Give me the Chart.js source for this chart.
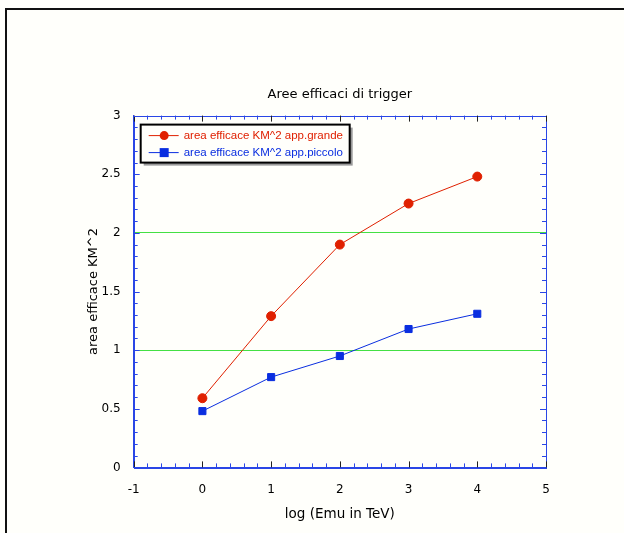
<!DOCTYPE html>
<html>
<head>
<meta charset="utf-8">
<script src="https://cdn.jsdelivr.net/npm/chart.js@4"></script>
<style>
  html, body { margin: 0; padding: 0; background: #fffffb; }
  #wrap { width: 624px; height: 533px; }
</style>
</head>
<body>
<div id="wrap"><canvas id="areaChart" width="624" height="533"></canvas></div>
<script>
// data
const logEnergy = [0, 1, 2, 3, 4];
const areaGrande = [0.59, 1.29, 1.90, 2.25, 2.48];
const areaPiccolo = [0.48, 0.77, 0.95, 1.18, 1.31];
const refLines = [1, 2];
const xTicks = [-1, 0, 1, 2, 3, 4, 5];
const yTicks = [0, 0.5, 1, 1.5, 2, 2.5, 3];

const FONT = "'DejaVu Sans', Verdana, sans-serif";
const LEG_FONT = "'Liberation Sans', Arial, sans-serif";
const RED = '#e02000';
const BLUE = '#0a2ee0';
const AXIS = '#2a46e6';

const toPoints = vals => vals.map((v, i) => ({ x: logEnergy[i], y: v }));

// background, outer frame, right/top axis border, inward ticks, boxed legend
const decorPlugin = {
    id: 'decor',
    beforeDraw(chart) {
        const ctx = chart.ctx;
        ctx.save();
        ctx.fillStyle = '#fffffb';
        ctx.fillRect(0, 0, chart.width, chart.height);
        ctx.strokeStyle = '#111';
        ctx.lineWidth = 2;
        ctx.beginPath();
        ctx.moveTo(6, chart.height);
        ctx.lineTo(6, 9);
        ctx.lineTo(chart.width, 9);
        ctx.stroke();
        ctx.restore();
    },
    afterDatasetsDraw(chart) {
        const ctx = chart.ctx;
        const a = chart.chartArea;
        const xs = chart.scales.x, ys = chart.scales.y;
        ctx.save();
        ctx.strokeStyle = AXIS;
        ctx.lineWidth = 1;
        ctx.strokeRect(Math.round(a.left) + 0.5, Math.round(a.top) + 0.5,
            Math.round(a.right - a.left), Math.round(a.bottom - a.top));
        // x ticks, minor every 0.2
        for (let k = 0; k <= 30; k++) {
            const v = xs.min + k * 0.2;
            const px = Math.round(xs.getPixelForValue(v)) + 0.5;
            const major = k % 5 === 0;
            const len = major ? 6 : 4;
            ctx.strokeStyle = major ? '#222' : AXIS;
            ctx.beginPath();
            ctx.moveTo(px, a.bottom); ctx.lineTo(px, a.bottom - len);
            ctx.moveTo(px, a.top); ctx.lineTo(px, a.top + len);
            ctx.stroke();
        }
        // y ticks, minor every 0.1
        for (let k = 0; k <= 30; k++) {
            const v = ys.min + k * 0.1;
            const py = Math.round(ys.getPixelForValue(v)) + 0.5;
            const major = k % 5 === 0;
            const len = major ? 6 : 4;
            ctx.strokeStyle = AXIS;
            ctx.beginPath();
            ctx.moveTo(a.left, py); ctx.lineTo(a.left + len, py);
            ctx.moveTo(a.right, py); ctx.lineTo(a.right - len, py);
            ctx.stroke();
        }
        // legend box
        const bx = a.left + 7, by = a.top + 9, bw = 209, bh = 38;
        ctx.fillStyle = '#999';
        ctx.fillRect(bx + 3, by + 3, bw, bh);
        ctx.fillStyle = '#fffffb';
        ctx.fillRect(bx, by, bw, bh);
        ctx.strokeStyle = '#000';
        ctx.lineWidth = 2;
        ctx.strokeRect(bx, by, bw, bh);
        ctx.font = '11.5px ' + LEG_FONT;
        ctx.textBaseline = 'middle';
        chart.data.datasets.forEach((ds, i) => {
            const ly = by + 11 + i * 17;
            ctx.strokeStyle = ds.borderColor;
            ctx.lineWidth = 1;
            ctx.beginPath();
            ctx.moveTo(bx + 8, ly); ctx.lineTo(bx + 38, ly);
            ctx.stroke();
            ctx.fillStyle = ds.pointBackgroundColor;
            if (ds.pointStyle === 'rect') {
                ctx.fillRect(bx + 19, ly - 4.5, 9, 9);
            } else {
                ctx.beginPath();
                ctx.arc(bx + 23.5, ly, 4.5, 0, Math.PI * 2);
                ctx.fill();
            }
            ctx.fillStyle = ds.borderColor;
            ctx.fillText(ds.label, bx + 43, ly);
        });
        ctx.restore();
    }
};

const areaChart = document.getElementById('areaChart');
new Chart(areaChart, {
    type: 'scatter',
    data: {
        datasets: [
            {
                label: 'area efficace KM^2 app.grande',
                data: toPoints(areaGrande),
                showLine: true,
                borderColor: RED,
                backgroundColor: RED,
                pointBackgroundColor: RED,
                pointBorderColor: RED,
                pointStyle: 'circle',
                pointRadius: 4.5,
                borderWidth: 1
            },
            {
                label: 'area efficace KM^2 app.piccolo',
                data: toPoints(areaPiccolo),
                showLine: true,
                borderColor: BLUE,
                backgroundColor: BLUE,
                pointBackgroundColor: BLUE,
                pointBorderColor: BLUE,
                pointStyle: 'rect',
                pointRadius: 5,
                borderWidth: 1
            }
        ]
    },
    options: {
        responsive: false,
        animation: false,
        layout: { padding: { left: 73, right: 78, top: 87, bottom: 10 } },
        plugins: {
            legend: { display: false },
            tooltip: { enabled: false },
            title: {
                display: true,
                fullSize: false,
                text: 'Aree efficaci di trigger',
                color: '#000',
                font: { family: FONT, size: 13, weight: 'normal' },
                padding: { top: 0, bottom: 13 }
            }
        },
        scales: {
            x: {
                type: 'linear',
                min: xTicks[0],
                max: xTicks[xTicks.length - 1],
                afterBuildTicks: s => { s.ticks = xTicks.map(v => ({ value: v })); },
                grid: { display: false, drawTicks: false },
                border: { display: true, color: AXIS },
                ticks: { color: '#000', padding: 15, font: { family: FONT, size: 12 }, callback: v => String(v) },
                title: {
                    display: true,
                    text: 'log (Emu in TeV)',
                    color: '#000',
                    font: { family: FONT, size: 13.5 },
                    padding: { top: -5, bottom: 0 }
                }
            },
            y: {
                type: 'linear',
                min: yTicks[0],
                max: yTicks[yTicks.length - 1],
                afterBuildTicks: s => { s.ticks = yTicks.map(v => ({ value: v })); },
                grid: {
                    drawTicks: false,
                    lineWidth: 1,
                    color: c => refLines.includes(c.tick && c.tick.value) ? '#44e044' : 'rgba(0,0,0,0)'
                },
                border: { display: true, color: AXIS },
                ticks: { color: '#000', padding: 13, font: { family: FONT, size: 12 }, callback: v => String(v) },
                title: {
                    display: true,
                    text: 'area efficace KM^2',
                    color: '#000',
                    font: { family: FONT, size: 13 },
                    padding: { top: 13, bottom: -13 }
                }
            }
        }
    },
    plugins: [decorPlugin]
});
</script>
</body>
</html>
